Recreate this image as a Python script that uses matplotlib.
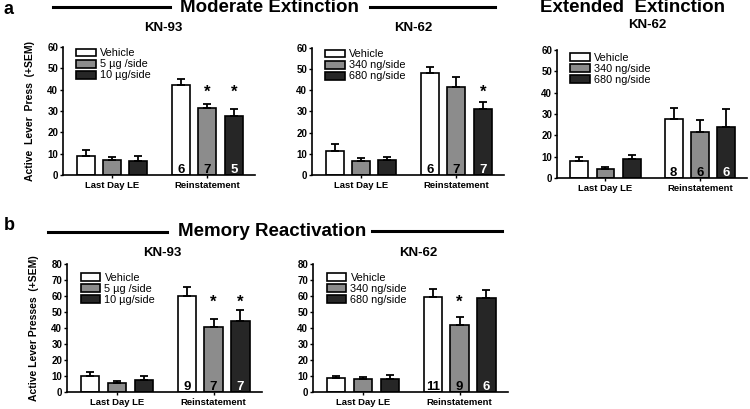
import matplotlib
matplotlib.use("Agg")
import matplotlib.pyplot as plt
from matplotlib.lines import Line2D
import numpy as np

plt.rcParams["font.family"] = ["Liberation Sans", "DejaVu Sans"]

FIG_W, FIG_H = 750, 409

groups = ["Last Day LE", "Reinstatement"]
kn93_doses = ["Vehicle", "5 µg /side", "10 µg/side"]
kn62_doses = ["Vehicle", "340 ng/side", "680 ng/side"]
bar_colors = ["white", "#8c8c8c", "#262626"]

# panel a, moderate extinction, KN-93
a93_le = [8.9, 7.2, 6.6]
a93_le_sem = [2.9, 1.4, 2.5]
a93_re = [42.2, 31.5, 27.5]
a93_re_sem = [2.8, 1.9, 3.6]
a93_n = [6, 7, 5]
a93_star = [False, True, True]

# panel a, moderate extinction, KN-62
a62_le = [11.5, 6.4, 7.1]
a62_le_sem = [3.3, 1.6, 1.2]
a62_re = [48.0, 41.8, 31.1]
a62_re_sem = [3.2, 4.4, 3.3]
a62_n = [6, 7, 7]
a62_star = [False, False, True]

# panel a, extended extinction, KN-62
ext62_le = [8.1, 4.4, 8.9]
ext62_le_sem = [1.7, 0.8, 2.0]
ext62_re = [27.7, 21.4, 24.1]
ext62_re_sem = [5.0, 5.6, 8.1]
ext62_n = [8, 6, 6]
ext62_star = [False, False, False]

# panel b, memory reactivation, KN-93
b93_le = [10.0, 5.8, 7.5]
b93_le_sem = [2.3, 1.3, 2.5]
b93_re = [60.3, 40.7, 44.5]
b93_re_sem = [5.5, 5.0, 6.6]
b93_n = [9, 7, 7]
b93_star = [False, True, True]

# panel b, memory reactivation, KN-62
b62_le = [8.5, 8.1, 8.1]
b62_le_sem = [1.5, 1.5, 2.3]
b62_re = [59.4, 41.9, 58.5]
b62_re_sem = [5.0, 5.0, 5.5]
b62_n = [11, 9, 6]
b62_star = [False, True, False]


def px_axes(fig, left, bottom, width, height):
    # pixel box (top-left origin) -> figure fraction
    return fig.add_axes([left / FIG_W, 1 - bottom / FIG_H, width / FIG_W, height / FIG_H])


def fig_text(fig, x, y, s, **kw):
    fig.text(x / FIG_W, 1 - y / FIG_H, s, **kw)


def fig_line(fig, x0, x1, y):
    fig.add_artist(Line2D([x0 / FIG_W, x1 / FIG_W], [1 - y / FIG_H, 1 - y / FIG_H],
                          color="black", lw=2.2, transform=fig.transFigure))


def draw_panel(ax, doses, le, le_sem, re, re_sem, n, stars, ymax, ystep, star_y, leg_y, ylabel=None):
    pos_le = np.arange(3)
    pos_re = np.arange(3) + 3.6
    width = 0.68
    for i in range(3):
        for pos, val, err in ((pos_le[i], le[i], le_sem[i]), (pos_re[i], re[i], re_sem[i])):
            ax.bar(pos, val, width, color=bar_colors[i], edgecolor="black", linewidth=1.2,
                   yerr=[[0], [err]], capsize=3.2,
                   error_kw=dict(elinewidth=1.3, capthick=1.3, ecolor="black"),
                   label=doses[i] if pos == pos_le[i] else None, zorder=2)
        ax.annotate(str(n[i]), xy=(pos_re[i], 0), xytext=(0, 1.2), textcoords="offset points",
                    ha="center", va="baseline", fontsize=9.5, fontweight="bold",
                    color="white" if i == 2 else "black", zorder=3)
        if stars[i]:
            ax.annotate("*", xy=(pos_re[i], star_y), xytext=(0, -6.5), textcoords="offset points",
                        ha="center", va="baseline", fontsize=12, fontweight="bold")

    ax.set_xlim(-0.85, 6.4)
    ax.set_ylim(0, ymax)
    ax.set_yticks(np.arange(0, ymax + 1, ystep))
    ax.set_xticks([1, 4.6])
    ax.set_xticklabels(groups, fontsize=6.8, fontweight="bold")
    for lab in ax.get_yticklabels():
        lab.set_fontweight("bold")
        lab.set_fontsize(7)
    ax.tick_params(axis="y", direction="out", length=2.5, width=1, pad=1)
    ax.tick_params(axis="x", direction="out", length=2.5, width=1, pad=1.5)
    for side in ("top", "right"):
        ax.spines[side].set_visible(False)
    for side in ("left", "bottom"):
        ax.spines[side].set_linewidth(1.2)
    ax.patch.set_alpha(0)

    ax.legend(loc="upper left", bbox_to_anchor=(0.07, leg_y), frameon=False, fontsize=7.8,
              handlelength=1.8, handleheight=0.75, handletextpad=0.4, labelspacing=0.1,
              borderpad=0, borderaxespad=0)

    if ylabel:
        ax.set_ylabel(ylabel, fontsize=7.5, fontweight="bold")
        ax.yaxis.set_label_coords(-0.146, 0.5)


fig = plt.figure(figsize=(FIG_W / 100, FIG_H / 100), dpi=100)

ax1 = px_axes(fig, 63, 175, 192, 128)
draw_panel(ax1, kn93_doses, a93_le, a93_le_sem, a93_re, a93_re_sem, a93_n, a93_star,
           60, 10, 41, 0.99, ylabel="Active  Lever  Press  (+SEM)")
ax2 = px_axes(fig, 312, 175, 192, 127)
draw_panel(ax2, kn62_doses, a62_le, a62_le_sem, a62_re, a62_re_sem, a62_n, a62_star,
           60, 10, 41, 0.99)
ax3 = px_axes(fig, 557, 178, 190, 128)
draw_panel(ax3, kn62_doses, ext62_le, ext62_le_sem, ext62_re, ext62_re_sem, ext62_n, ext62_star,
           60, 10, 41, 0.98)
ax4 = px_axes(fig, 67, 392, 195, 128)
draw_panel(ax4, kn93_doses, b93_le, b93_le_sem, b93_re, b93_re_sem, b93_n, b93_star,
           80, 10, 59, 0.93, ylabel="Active Lever Presses  (+SEM)")
ax5 = px_axes(fig, 313, 392, 195, 128)
draw_panel(ax5, kn62_doses, b62_le, b62_le_sem, b62_re, b62_re_sem, b62_n, b62_star,
           80, 10, 59, 0.93)

# section headers
title_kw = dict(ha="center", va="center", fontsize=13.5, fontweight="bold")
fig_text(fig, 4, 9, "a", ha="left", va="center", fontsize=13, fontweight="bold")
fig_line(fig, 53, 170, 7)
fig_text(fig, 269, 8, "Moderate Extinction", **title_kw)
fig_line(fig, 370, 495, 7)
fig_text(fig, 632, 8, "Extended  Extinction", **title_kw)

fig_text(fig, 4, 225, "b", ha="left", va="center", fontsize=13, fontweight="bold")
fig_line(fig, 48, 167, 232)
fig_text(fig, 272, 231, "Memory Reactivation", **title_kw)
fig_line(fig, 372, 502, 231)

drug_kw = dict(ha="center", va="center", fontsize=9.5, fontweight="bold")
fig_text(fig, 163, 28, "KN-93", **drug_kw)
fig_text(fig, 413, 28, "KN-62", **drug_kw)
fig_text(fig, 647, 25, "KN-62", **drug_kw)
fig_text(fig, 162, 253, "KN-93", **drug_kw)
fig_text(fig, 418, 253, "KN-62", **drug_kw)

fig.savefig("out.png", dpi=100)
